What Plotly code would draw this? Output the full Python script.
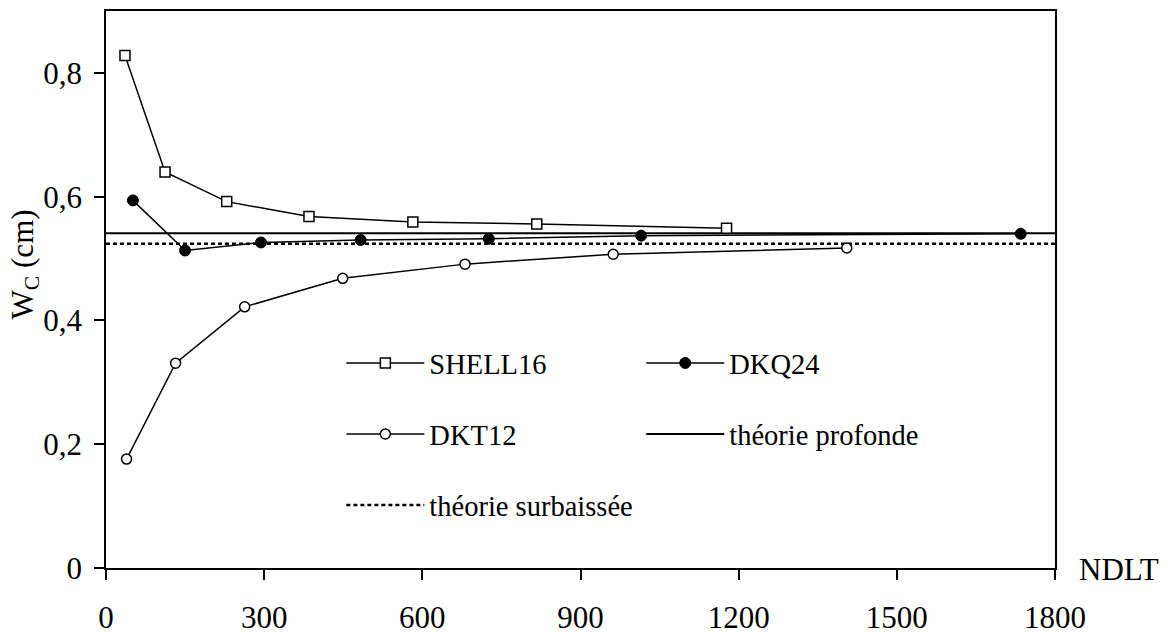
import plotly.graph_objects as go

# Data
shell16_x = [36, 112, 229, 385, 582, 817, 1177]
shell16_y = [0.828, 0.640, 0.592, 0.568, 0.559, 0.556, 0.549]

dkq24_x = [51, 150, 294, 483, 726, 1015, 1735]
dkq24_y = [0.594, 0.513, 0.526, 0.530, 0.532, 0.537, 0.540]

dkt12_x = [39, 132, 263, 449, 681, 962, 1405]
dkt12_y = [0.176, 0.331, 0.422, 0.468, 0.491, 0.507, 0.517]

theory_x = [0, 1800]
profonde_y = [0.541, 0.541]
surbaissee_y = [0.524, 0.524]

x_tickvals = [0, 300, 600, 900, 1200, 1500, 1800]
x_ticktext = ["0", "300", "600", "900", "1200", "1500", "1800"]
y_tickvals = [0, 0.2, 0.4, 0.6, 0.8]
y_ticktext = ["0", "0,2", "0,4", "0,6", "0,8"]

FONT = "Liberation Serif, Times New Roman, serif"
fig = go.Figure()

line_style = dict(color="black", width=1.5)

fig.add_trace(go.Scatter(
    x=theory_x, y=surbaissee_y, mode="lines", name="théorie surbaissée",
    line=dict(color="black", width=2.5, dash="4px,3px"),
    legend="legend", legendgroup="c", legendrank=3))
fig.add_trace(go.Scatter(
    x=theory_x, y=profonde_y, mode="lines", name="théorie profonde",
    line=dict(color="black", width=2),
    legend="legend2", legendgroup="e", legendrank=2))
fig.add_trace(go.Scatter(
    x=shell16_x, y=shell16_y, mode="lines+markers", name="SHELL16",
    line=line_style,
    marker=dict(symbol="square", size=10, color="white",
                line=dict(color="black", width=1.5)),
    legend="legend", legendgroup="a", legendrank=1))
fig.add_trace(go.Scatter(
    x=dkt12_x, y=dkt12_y, mode="lines+markers", name="DKT12",
    line=line_style,
    marker=dict(symbol="circle", size=10, color="white",
                line=dict(color="black", width=1.5)),
    legend="legend", legendgroup="b", legendrank=2))
fig.add_trace(go.Scatter(
    x=dkq24_x, y=dkq24_y, mode="lines+markers", name="DKQ24",
    line=line_style,
    marker=dict(symbol="circle", size=11, color="black",
                line=dict(color="black", width=1)),
    legend="legend2", legendgroup="d", legendrank=1))

legend_common = dict(
    font=dict(family=FONT, size=28.5, color="black"),
    bgcolor="rgba(0,0,0,0)",
    traceorder="grouped",
    tracegroupgap=31,
    itemwidth=78,
    xanchor="left", yanchor="top",
    orientation="v",
)

fig.update_layout(
    width=1174, height=634,
    margin=dict(l=106, r=119, t=11, b=66),
    paper_bgcolor="white", plot_bgcolor="white",
    font=dict(family=FONT, size=31, color="black"),
    showlegend=True,
    legend=dict(x=0.248, y=0.413, **legend_common),
    legend2=dict(x=0.564, y=0.413, **legend_common),
    xaxis=dict(
        range=[0, 1800], tickvals=x_tickvals, ticktext=x_ticktext,
        showgrid=False, zeroline=False, automargin=False,
        showline=True, linecolor="black", linewidth=1.5, mirror=True,
        ticks="outside", ticklen=10, tickwidth=1.5, tickcolor="black",
        tickfont=dict(family=FONT, size=31, color="black"),
        ticklabelstandoff=11,
    ),
    yaxis=dict(
        range=[0, 0.9], tickvals=y_tickvals, ticktext=y_ticktext,
        showgrid=False, zeroline=False, automargin=False,
        showline=True, linecolor="black", linewidth=1.5, mirror=True,
        ticks="outside", ticklen=10, tickwidth=1.5, tickcolor="black",
        tickfont=dict(family=FONT, size=31, color="black"),
        ticklabelstandoff=6,
    ),
    annotations=[
        dict(text="W<sub>C</sub> (cm)", xref="paper", yref="paper",
             x=0, y=0.545, xanchor="center", yanchor="middle",
             xshift=-81, textangle=-90, showarrow=False,
             font=dict(family=FONT, size=31, color="black")),
        dict(text="NDLT", xref="paper", yref="paper",
             x=1, y=0, xanchor="left", yanchor="middle",
             xshift=22, yshift=-1, showarrow=False,
             font=dict(family=FONT, size=31, color="black")),
    ],
)

fig.write_html("out.html")
